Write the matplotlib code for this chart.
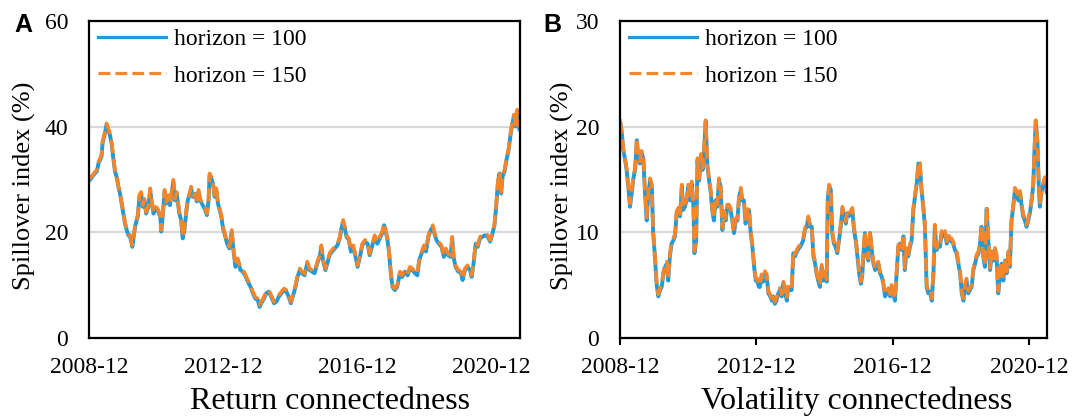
import matplotlib
matplotlib.use("Agg")
import matplotlib.pyplot as plt

plt.rcParams["font.family"] = ["Liberation Serif", "DejaVu Serif"]

# return connectedness: sample positions (decimal year) and spillover index (%)
ret_t = [2008.92, 2008.95, 2009.05, 2009.15, 2009.20, 2009.29, 2009.32, 2009.39, 2009.44, 2009.49,
         2009.54, 2009.59, 2009.64, 2009.69, 2009.74, 2009.79, 2009.84, 2009.89, 2009.94, 2009.99,
         2010.04, 2010.09, 2010.14, 2010.21, 2010.26, 2010.31, 2010.37, 2010.42, 2010.47, 2010.52,
         2010.57, 2010.62, 2010.69, 2010.74, 2010.79, 2010.84, 2010.89, 2010.96, 2011.04, 2011.07,
         2011.12, 2011.17, 2011.22, 2011.28, 2011.33, 2011.38, 2011.43, 2011.48, 2011.53, 2011.61,
         2011.66, 2011.71, 2011.76, 2011.81, 2011.86, 2011.91, 2011.96, 2012.01, 2012.08, 2012.13,
         2012.18, 2012.23, 2012.28, 2012.33, 2012.38, 2012.43, 2012.48, 2012.51, 2012.56, 2012.61,
         2012.66, 2012.71, 2012.76, 2012.81, 2012.86, 2012.91, 2012.98, 2013.03, 2013.10, 2013.17,
         2013.23, 2013.28, 2013.35, 2013.43, 2013.50, 2013.57, 2013.65, 2013.73, 2013.80, 2013.87,
         2013.95, 2014.00, 2014.05, 2014.13, 2014.20, 2014.27, 2014.35, 2014.43, 2014.50, 2014.57,
         2014.65, 2014.73, 2014.80, 2014.87, 2014.93, 2015.00, 2015.07, 2015.13, 2015.20, 2015.26,
         2015.34, 2015.42, 2015.49, 2015.56, 2015.64, 2015.72, 2015.79, 2015.84, 2015.89, 2015.96,
         2016.02, 2016.09, 2016.16, 2016.24, 2016.32, 2016.39, 2016.44, 2016.49, 2016.54, 2016.59,
         2016.66, 2016.72, 2016.79, 2016.86, 2016.92, 2016.99, 2017.06, 2017.14, 2017.22, 2017.28,
         2017.35, 2017.43, 2017.51, 2017.58, 2017.65, 2017.71, 2017.75, 2017.81, 2017.86, 2017.91,
         2017.96, 2018.03, 2018.10, 2018.18, 2018.25, 2018.33, 2018.41, 2018.48, 2018.55, 2018.63,
         2018.70, 2018.76, 2018.83, 2018.90, 2018.96, 2019.03, 2019.10, 2019.16, 2019.21, 2019.27,
         2019.34, 2019.42, 2019.49, 2019.55, 2019.62, 2019.69, 2019.74, 2019.78, 2019.84, 2019.92,
         2020.00, 2020.05, 2020.12, 2020.20, 2020.27, 2020.32, 2020.37, 2020.44, 2020.50, 2020.57,
         2020.64, 2020.72, 2020.80, 2020.87, 2020.94, 2021.00, 2021.05, 2021.10, 2021.15, 2021.20,
         2021.24, 2021.30, 2021.36, 2021.42, 2021.48, 2021.53, 2021.58, 2021.63, 2021.68, 2021.74]
ret_h100 = [30.0, 29.9, 30.8, 31.5, 33.0, 34.3, 36.8, 38.7, 40.3, 39.4,
            38.4, 36.8, 34.0, 31.5, 30.5, 28.6, 27.3, 25.4, 23.5, 21.6,
            20.4, 19.4, 19.1, 17.2, 19.7, 21.6, 22.9, 26.7, 27.3, 24.8,
            26.0, 23.5, 24.8, 28.0, 25.4, 23.5, 24.5, 24.2, 22.9, 20.1,
            23.5, 27.7, 25.4, 26.7, 25.1, 27.3, 29.6, 26.0, 27.3, 23.5,
            22.3, 18.8, 20.4, 23.5, 26.0, 27.0, 28.3, 26.7, 27.0, 25.8,
            27.7, 26.0, 25.4, 24.8, 24.2, 23.2, 26.0, 30.8, 30.2, 29.2,
            26.7, 28.0, 25.4, 24.2, 22.9, 20.7, 19.1, 17.8, 16.9, 20.1,
            16.0, 13.4, 14.7, 12.8, 12.5, 11.8, 10.6, 9.6, 8.4, 7.4,
            7.1, 5.8, 6.5, 7.4, 8.4, 8.7, 7.7, 6.5, 6.8, 7.7,
            8.4, 9.0, 8.7, 7.7, 6.5, 8.0, 9.6, 11.5, 12.8, 12.2,
            11.8, 14.1, 12.8, 12.5, 12.2, 14.1, 15.3, 17.2, 14.7, 12.8,
            14.1, 15.7, 16.3, 16.9, 17.5, 18.8, 20.7, 22.0, 20.7, 19.1,
            18.5, 16.3, 17.2, 15.3, 13.4, 15.3, 17.5, 18.2, 17.8, 15.6,
            17.2, 19.1, 17.8, 18.8, 19.7, 21.3, 20.4, 18.5, 16.0, 12.2,
            9.6, 9.0, 9.6, 12.2, 11.5, 12.5, 11.8, 13.1, 12.8, 12.2,
            11.8, 14.7, 16.0, 17.2, 16.3, 19.1, 20.4, 21.0, 19.7, 18.5,
            17.8, 17.2, 15.3, 16.6, 15.6, 15.3, 18.8, 15.3, 13.4, 12.5,
            12.2, 10.9, 12.8, 13.4, 12.8, 11.5, 13.7, 17.8, 17.2, 18.8,
            19.1, 19.4, 19.1, 18.2, 19.7, 21.3, 24.8, 29.2, 31.1, 27.3,
            30.5, 31.5, 33.8, 35.5, 38.5, 40.5, 42.0, 40.0, 43.0, 39.5]
ret_h150 = [30.3, 30.2, 31.0, 31.8, 33.3, 34.6, 37.1, 39.0, 40.6, 39.7,
            38.7, 37.1, 34.3, 31.8, 30.8, 28.9, 27.6, 25.7, 23.8, 21.9,
            20.7, 19.7, 19.4, 17.5, 20.0, 21.9, 23.2, 27.0, 27.6, 25.1,
            26.3, 23.8, 25.1, 28.3, 25.7, 23.8, 24.8, 24.5, 23.2, 20.4,
            23.8, 28.0, 25.7, 27.0, 25.4, 27.6, 29.9, 26.3, 27.6, 23.8,
            22.6, 19.1, 20.7, 23.8, 26.3, 27.3, 28.6, 27.0, 27.3, 26.1,
            28.0, 26.3, 25.7, 25.1, 24.5, 23.5, 26.3, 31.1, 30.5, 29.5,
            27.0, 28.3, 25.7, 24.5, 23.2, 21.0, 19.4, 18.1, 17.2, 20.4,
            16.3, 13.7, 15.0, 13.1, 12.8, 12.1, 10.9, 9.9, 8.7, 7.7,
            7.4, 6.2, 6.8, 7.7, 8.7, 9.0, 8.0, 6.8, 7.1, 8.0,
            8.7, 9.3, 9.0, 8.0, 6.8, 8.3, 9.9, 11.8, 13.1, 12.5,
            12.1, 14.4, 13.1, 12.8, 12.5, 14.4, 15.6, 17.5, 15.0, 13.1,
            14.4, 16.0, 16.6, 17.2, 17.8, 19.1, 21.0, 22.3, 21.0, 19.4,
            18.8, 16.6, 17.5, 15.6, 13.7, 15.6, 17.8, 18.5, 18.1, 15.9,
            17.5, 19.4, 18.1, 19.1, 20.0, 21.6, 20.7, 18.8, 16.3, 12.5,
            9.9, 9.3, 9.9, 12.5, 11.8, 12.8, 12.1, 13.4, 13.1, 12.5,
            12.1, 15.0, 16.3, 17.5, 16.6, 19.4, 20.7, 21.3, 20.0, 18.8,
            18.1, 17.5, 15.6, 16.9, 15.9, 15.6, 19.1, 15.6, 13.7, 12.8,
            12.5, 11.2, 13.1, 13.7, 13.1, 11.8, 14.0, 18.1, 17.5, 19.1,
            19.4, 19.7, 19.4, 18.5, 20.0, 21.6, 25.1, 29.5, 31.4, 27.6,
            30.8, 31.8, 34.1, 35.8, 38.8, 40.8, 42.3, 40.3, 43.2, 39.8]

# volatility connectedness: sample positions (decimal year) and spillover index (%)
vol_t = [2008.92, 2008.97, 2009.01, 2009.06, 2009.11, 2009.16, 2009.21, 2009.26, 2009.31, 2009.36,
         2009.41, 2009.45, 2009.50, 2009.55, 2009.60, 2009.65, 2009.70, 2009.75, 2009.80, 2009.85,
         2009.89, 2009.94, 2009.99, 2010.04, 2010.09, 2010.14, 2010.19, 2010.24, 2010.29, 2010.33,
         2010.38, 2010.43, 2010.48, 2010.53, 2010.58, 2010.63, 2010.68, 2010.73, 2010.77, 2010.82,
         2010.87, 2010.92, 2010.97, 2011.02, 2011.07, 2011.10, 2011.15, 2011.19, 2011.24, 2011.29,
         2011.34, 2011.39, 2011.43, 2011.48, 2011.53, 2011.58, 2011.62, 2011.67, 2011.72, 2011.77,
         2011.82, 2011.87, 2011.92, 2011.97, 2012.02, 2012.06, 2012.11, 2012.16, 2012.21, 2012.26,
         2012.31, 2012.36, 2012.41, 2012.46, 2012.50, 2012.55, 2012.60, 2012.65, 2012.70, 2012.75,
         2012.80, 2012.85, 2012.90, 2012.94, 2012.99, 2013.02, 2013.07, 2013.12, 2013.17, 2013.22,
         2013.27, 2013.32, 2013.37, 2013.41, 2013.46, 2013.51, 2013.56, 2013.61, 2013.66, 2013.71,
         2013.76, 2013.81, 2013.85, 2013.90, 2013.95, 2014.00, 2014.05, 2014.10, 2014.15, 2014.20,
         2014.25, 2014.29, 2014.34, 2014.39, 2014.44, 2014.49, 2014.54, 2014.59, 2014.64, 2014.68,
         2014.73, 2014.78, 2014.83, 2014.88, 2014.93, 2014.98, 2015.01, 2015.05, 2015.10, 2015.14,
         2015.19, 2015.24, 2015.29, 2015.34, 2015.39, 2015.44, 2015.49, 2015.54, 2015.58, 2015.63,
         2015.68, 2015.73, 2015.78, 2015.83, 2015.88, 2015.93, 2015.98, 2016.02, 2016.07, 2016.10,
         2016.15, 2016.20, 2016.25, 2016.30, 2016.35, 2016.40, 2016.44, 2016.49, 2016.54, 2016.59,
         2016.64, 2016.69, 2016.74, 2016.79, 2016.84, 2016.88, 2016.93, 2016.98, 2017.03, 2017.08,
         2017.13, 2017.18, 2017.23, 2017.27, 2017.32, 2017.37, 2017.42, 2017.47, 2017.52, 2017.57,
         2017.62, 2017.67, 2017.71, 2017.76, 2017.81, 2017.86, 2017.91, 2017.96, 2018.01, 2018.06,
         2018.11, 2018.15, 2018.20, 2018.25, 2018.30, 2018.35, 2018.40, 2018.45, 2018.50, 2018.55,
         2018.59, 2018.64, 2018.69, 2018.74, 2018.79, 2018.84, 2018.89, 2018.94, 2018.99, 2019.03,
         2019.08, 2019.13, 2019.18, 2019.23, 2019.28, 2019.33, 2019.38, 2019.43, 2019.47, 2019.52,
         2019.57, 2019.62, 2019.67, 2019.72, 2019.77, 2019.82, 2019.87, 2019.91, 2019.96, 2020.01,
         2020.06, 2020.11, 2020.16, 2020.21, 2020.26, 2020.31, 2020.35, 2020.40, 2020.45, 2020.50,
         2020.55, 2020.60, 2020.65, 2020.70, 2020.74, 2020.79, 2020.84, 2020.89, 2020.94, 2020.99,
         2021.04, 2021.07, 2021.11, 2021.16, 2021.20, 2021.23, 2021.28, 2021.33, 2021.38, 2021.43]
vol_h100 = [20.5, 19.4, 17.8, 17.0, 15.9, 14.3, 12.4, 13.7, 15.1, 15.9,
            18.7, 17.2, 16.5, 17.5, 17.0, 13.7, 11.1, 13.7, 14.9, 14.3,
            9.9, 7.7, 5.1, 3.9, 4.5, 4.8, 6.1, 6.7, 7.0, 5.4,
            7.7, 8.9, 9.2, 9.6, 11.8, 12.1, 11.5, 14.3, 12.1, 12.4,
            13.0, 14.3, 13.0, 14.6, 12.4, 8.0, 9.2, 16.8, 14.9, 17.2,
            15.9, 18.1, 20.5, 16.2, 14.9, 13.7, 12.1, 11.1, 13.0, 12.4,
            14.9, 14.3, 10.2, 11.8, 11.1, 12.4, 12.4, 12.1, 11.1, 9.9,
            11.1, 11.1, 13.3, 14.0, 13.0, 13.0, 10.8, 11.8, 12.1, 9.9,
            8.6, 6.7, 5.4, 5.4, 4.8, 4.8, 5.8, 5.3, 6.1, 5.8,
            4.2, 3.9, 3.5, 3.9, 3.2, 3.5, 4.2, 4.5, 3.9, 5.1,
            4.2, 3.5, 4.8, 4.5, 4.5, 8.0, 7.7, 8.1, 8.4, 8.6,
            8.9, 9.2, 10.2, 10.5, 11.3, 10.5, 10.5, 7.7, 7.0, 6.1,
            5.4, 4.8, 6.7, 5.4, 6.1, 5.3, 13.0, 14.3, 14.0, 9.9,
            8.9, 8.6, 8.0, 9.2, 10.5, 12.2, 11.5, 10.8, 11.8, 11.5,
            11.8, 12.1, 10.2, 9.2, 7.7, 6.1, 5.1, 5.8, 8.6, 9.9,
            8.0, 7.3, 9.9, 8.3, 7.0, 6.4, 6.7, 7.0, 6.1, 5.8,
            5.1, 3.9, 4.2, 4.5, 3.9, 4.8, 4.2, 3.5, 6.1, 8.6,
            8.9, 8.3, 9.6, 6.4, 8.3, 7.7, 8.6, 9.2, 12.1, 13.4,
            14.6, 16.5, 16.4, 14.0, 12.4, 10.5, 4.8, 4.2, 4.3, 3.5,
            6.1, 10.5, 8.3, 8.9, 8.6, 9.9, 9.6, 9.9, 8.9, 9.6,
            9.2, 9.2, 8.9, 8.3, 8.0, 7.0, 6.1, 4.2, 3.5, 4.8,
            5.4, 4.2, 4.5, 4.8, 6.4, 7.0, 7.7, 8.0, 8.6, 10.5,
            7.7, 6.7, 12.2, 9.2, 6.4, 8.0, 7.3, 8.3, 7.7, 4.2,
            5.8, 7.0, 5.4, 7.3, 6.1, 8.0, 6.7, 11.1, 12.4, 14.0,
            13.7, 13.0, 13.7, 12.4, 11.5, 11.1, 10.5, 11.1, 11.8, 13.0,
            14.6, 17.5, 20.5, 18.4, 14.3, 12.4, 13.8, 14.5, 15.0, 13.8]
vol_h150 = [20.6, 19.6, 18.0, 17.2, 16.1, 14.5, 12.7, 13.9, 15.3, 16.1,
            18.9, 17.4, 16.7, 17.7, 17.2, 13.9, 11.4, 13.9, 15.1, 14.5,
            10.1, 7.9, 5.3, 4.1, 4.7, 5.0, 6.3, 6.9, 7.2, 5.6,
            7.9, 9.1, 9.4, 9.8, 12.0, 12.3, 11.7, 14.5, 12.3, 12.6,
            13.2, 14.5, 13.2, 14.8, 12.6, 8.2, 9.4, 17.0, 15.1, 17.4,
            16.1, 18.3, 20.6, 16.4, 15.1, 13.9, 12.3, 11.3, 13.2, 12.6,
            15.1, 14.5, 10.4, 12.0, 11.3, 12.6, 12.6, 12.3, 11.3, 10.1,
            11.3, 11.3, 13.5, 14.2, 13.2, 13.2, 11.0, 12.0, 12.3, 10.1,
            8.8, 6.9, 5.6, 5.6, 5.0, 5.0, 6.0, 5.5, 6.3, 6.0,
            4.4, 4.1, 3.7, 4.1, 3.4, 3.7, 4.4, 4.7, 4.1, 5.3,
            4.4, 3.7, 5.0, 4.7, 4.7, 8.2, 7.9, 8.3, 8.6, 8.8,
            9.1, 9.4, 10.4, 10.7, 11.5, 10.7, 10.7, 7.9, 7.2, 6.3,
            5.6, 5.0, 6.9, 5.6, 6.3, 5.5, 13.2, 14.5, 14.2, 10.1,
            9.1, 8.8, 8.2, 9.4, 10.7, 12.4, 11.7, 11.0, 12.0, 11.7,
            12.0, 12.3, 10.4, 9.4, 7.9, 6.3, 5.3, 6.0, 8.8, 10.1,
            8.2, 7.5, 10.1, 8.5, 7.2, 6.6, 6.9, 7.2, 6.3, 6.0,
            5.3, 4.1, 4.4, 4.7, 4.1, 5.0, 4.4, 3.7, 6.3, 8.8,
            9.1, 8.5, 9.8, 6.6, 8.5, 7.9, 8.8, 9.4, 12.3, 13.6,
            14.8, 16.7, 16.6, 14.2, 12.6, 10.7, 5.0, 4.4, 4.5, 3.7,
            6.3, 10.7, 8.5, 9.1, 8.8, 10.1, 9.8, 10.1, 9.1, 9.8,
            9.4, 9.4, 9.1, 8.5, 8.2, 7.2, 6.3, 4.4, 3.7, 5.0,
            5.6, 4.4, 4.7, 5.0, 6.6, 7.2, 7.9, 8.2, 8.8, 10.7,
            7.9, 6.9, 12.4, 9.4, 6.6, 8.2, 7.5, 8.5, 7.9, 4.4,
            6.0, 7.2, 5.6, 7.5, 6.3, 8.2, 6.9, 11.3, 12.6, 14.2,
            13.9, 13.2, 13.9, 12.6, 11.7, 11.3, 10.7, 11.3, 12.0, 13.2,
            14.8, 17.7, 20.6, 18.6, 14.5, 12.6, 14.0, 14.7, 15.2, 14.0]

tick_pos = [2008.917, 2012.917, 2016.917, 2020.917]
tick_labels = ["2008-12", "2012-12", "2016-12", "2020-12"]

BLUE = "#1f9bd8"
ORANGE = "#f7852a"

fig = plt.figure(figsize=(10.75, 4.19), dpi=100)
ax_a = fig.add_axes([89 / 1075, 1 - 337.6 / 419, 431 / 1075, 316.6 / 419])
ax_b = fig.add_axes([620 / 1075, 1 - 337.6 / 419, 427 / 1075, 316.6 / 419])

panels = [
    (ax_a, ret_t, ret_h100, ret_h150, 60, [0, 20, 40, 60], 2021.76, 0),
    (ax_b, vol_t, vol_h100, vol_h150, 30, [0, 10, 20, 30], 2021.44, 5),
]
for ax, t, h100, h150, ymax, yticks, xmax, ticklen in panels:
    ax.plot(t, h100, color=BLUE, lw=2.8, solid_joinstyle="round", label="horizon = 100")
    ax.plot(t, h150, color=ORANGE, lw=2.6, ls="--", label="horizon = 150")
    ax.set_xlim(2008.917, xmax)
    ax.set_ylim(0, ymax)
    ax.set_yticks(yticks)
    ax.set_xticks(tick_pos)
    ax.set_xticklabels(tick_labels)
    ax.tick_params(axis="y", length=0, pad=15, labelsize=17)
    ax.tick_params(axis="x", length=ticklen, width=1.5, direction="out",
                   pad=14 - ticklen, labelsize=17)
    ax.yaxis.grid(True, color="#d9d9d9", lw=1.6)
    ax.set_axisbelow(True)
    for sp in ax.spines.values():
        sp.set_linewidth(1.6)
        sp.set_color("black")
    leg = ax.legend(loc="upper left", bbox_to_anchor=(0.02, 0.975), frameon=False,
                    fontsize=17, handlelength=2.9, handletextpad=0.35,
                    labelspacing=0.62, borderpad=0, borderaxespad=0)
    for line in leg.get_lines():
        line.set_linewidth(2.3)

fig.text(23 / 1075, 1 - 25 / 419, "A", ha="center", va="center", fontsize=18,
         fontweight="bold", family=["Liberation Sans", "DejaVu Sans"])
fig.text(552 / 1075, 1 - 25 / 419, "B", ha="center", va="center", fontsize=18,
         fontweight="bold", family=["Liberation Sans", "DejaVu Sans"])

fig.text(24 / 1075, 1 - 186 / 419, "Spillover index (%)", rotation=90,
         ha="center", va="center", fontsize=19)
fig.text(562 / 1075, 1 - 186 / 419, "Spillover index (%)", rotation=90,
         ha="center", va="center", fontsize=19)

fig.text(330 / 1075, 1 - 401 / 419, "Return connectedness", ha="center",
         va="center", fontsize=23)
fig.text(857 / 1075, 1 - 401 / 419, "Volatility connectedness", ha="center",
         va="center", fontsize=23)

fig.savefig("out.png", dpi=100)
